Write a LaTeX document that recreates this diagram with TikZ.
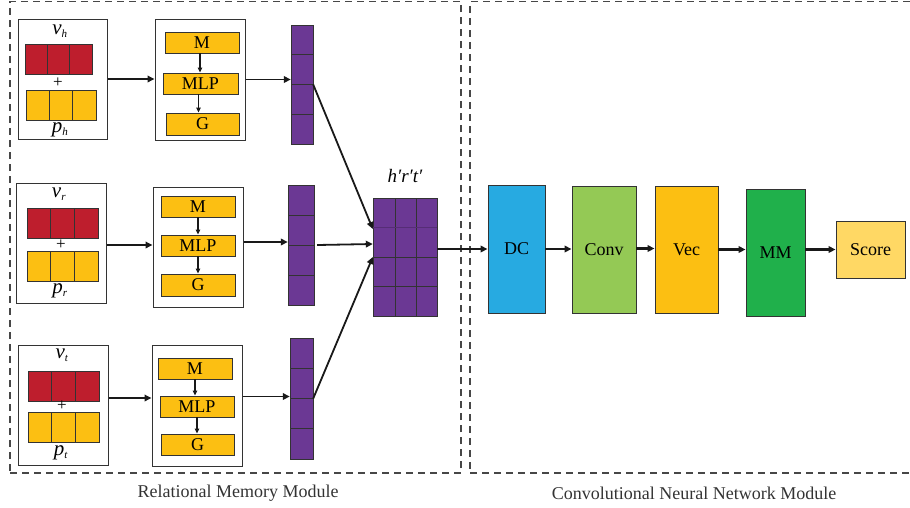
\documentclass[tikz,border=0pt]{standalone}
\usepackage{fontspec}
\setmainfont{Liberation Serif}
\usetikzlibrary{arrows.meta}
\definecolor{redc}{HTML}{BE1E2D}
\definecolor{yelc}{HTML}{FCBF12}
\definecolor{purc}{HTML}{6B3894}
\definecolor{dcc}{HTML}{27AAE1}
\definecolor{convc}{HTML}{94C955}
\definecolor{mmc}{HTML}{20B04B}
\definecolor{scorec}{HTML}{FFD864}
\definecolor{linec}{HTML}{333333}
\newcommand{\rectnode}[7]{\node[#2, inner sep=0pt, minimum width={(#5-#3)*1pt}, minimum height={(#6-#4)*1pt}] (#1) at ({(#3+#5)/2},{(#4+#6)/2}) {#7};}
\newcommand{\hcells}[7]{\foreach \ci in {1,...,#7}{\pgfmathsetmacro\xa{#3+(\ci-1)*(#5-#3)/#7}\pgfmathsetmacro\xb{#3+\ci*(#5-#3)/#7}\rectnode{#1\ci}{#2}{\xa}{#4}{\xb}{#6}{}}}
\newcommand{\vcells}[7]{\foreach \ci in {1,...,#7}{\pgfmathsetmacro\ya{#4+(\ci-1)*(#6-#4)/#7}\pgfmathsetmacro\yb{#4+\ci*(#6-#4)/#7}\rectnode{#1\ci}{#2}{#3}{\ya}{#5}{\yb}{}}}
\begin{document}
\begin{tikzpicture}[x=1pt,y=-1pt,
  dashbox/.style={draw=linec!90, dash pattern=on 7pt off 5pt, line width=1.1pt},
  outer/.style={draw=linec, line width=1pt, fill=white},
  redcell/.style={draw=linec, fill=redc, line width=0.9pt},
  yelcell/.style={draw=linec, fill=yelc, line width=0.9pt},
  purcell/.style={draw=linec, fill=purc, line width=0.9pt},
  ybox/.style={draw=linec, fill=yelc, line width=0.9pt, font=\fontsize{18}{20}\selectfont},
  bigbox/.style={draw=linec, line width=0.9pt, font=\fontsize{18}{20}\selectfont},
  lab/.style={inner sep=0pt, font=\fontsize{21}{22}\selectfont\itshape},
  plus/.style={inner sep=0pt, font=\fontsize{17}{18}\selectfont},
  captext/.style={inner sep=0pt, font=\fontsize{18}{20}\selectfont, text=linec},
  arr/.style={draw=black!90, line width=1.8pt, -{Triangle[length=7pt,width=6.5pt]}},
  arrb/.style={draw=black!90, line width=2.3pt, -{Triangle[length=7pt,width=6.5pt]}},
  sarr/.style={draw=black!90, line width=1.2pt, -{Triangle[length=5pt,width=4.5pt]}}
]
\useasboundingbox (0,0) rectangle (910,507);
% dashed module frames
\rectnode{rmm}{dashbox}{10}{1.5}{461}{473}{}
\rectnode{cnn}{dashbox}{470}{1.5}{916}{473}{}
% ---------- group h ----------
\rectnode{in1}{outer}{18}{19}{107}{139}{}
\hcells{rh}{redcell}{25}{44}{92}{74}{3}
\hcells{yh}{yelcell}{26}{90}{96}{120}{3}
\node[lab] (vh) at (60,31) {v\textsubscript{\fontsize{11}{11}\selectfont h}};
\node[plus] (plh) at (58,83) {+};
\node[lab] (ph) at (60,130) {p\textsubscript{\fontsize{11}{11}\selectfont h}};
\rectnode{mb1}{outer}{155}{19}{245}{140}{}
\rectnode{M1}{ybox}{165}{32}{239}{53}{M}
\rectnode{L1}{ybox}{163}{73}{238}{94}{MLP}
\rectnode{G1}{ybox}{166}{113}{239}{135}{G}
\rectnode{P1}{}{291}{25}{313}{144}{}
\vcells{p1c}{purcell}{291}{25}{313}{144}{4}
% ---------- group r ----------
\rectnode{in2}{outer}{16}{183}{106}{303}{}
\hcells{rr}{redcell}{27}{208}{98}{238}{3}
\hcells{yr}{yelcell}{27}{251}{98}{281}{3}
\node[lab] (vr) at (59,194) {v\textsubscript{\fontsize{11}{11}\selectfont r}};
\node[plus] (plr) at (61,245) {+};
\node[lab] (pr) at (60,291) {p\textsubscript{\fontsize{11}{11}\selectfont r}};
\rectnode{mb2}{outer}{153}{187}{243}{307}{}
\rectnode{M2}{ybox}{161}{196}{235}{217}{M}
\rectnode{L2}{ybox}{161}{235}{235}{256}{MLP}
\rectnode{G2}{ybox}{161}{274}{235}{296}{G}
\rectnode{P2}{}{288}{185}{314}{305}{}
\vcells{p2c}{purcell}{288}{185}{314}{305}{4}
% ---------- group t ----------
\rectnode{in3}{outer}{18}{345}{108}{465}{}
\hcells{rt}{redcell}{28}{371}{99}{401}{3}
\hcells{yt}{yelcell}{28}{412}{99}{442}{3}
\node[lab] (vt) at (62,355) {v\textsubscript{\fontsize{11}{11}\selectfont t}};
\node[plus] (plt) at (62,406) {+};
\node[lab] (pt) at (61,453) {p\textsubscript{\fontsize{11}{11}\selectfont t}};
\rectnode{mb3}{outer}{152}{345}{242}{466}{}
\rectnode{M3}{ybox}{158}{358}{232}{379}{M}
\rectnode{L3}{ybox}{160}{396}{234}{417}{MLP}
\rectnode{G3}{ybox}{161}{434}{234}{455}{G}
\rectnode{P3}{}{290}{338}{313}{459}{}
\vcells{p3c}{purcell}{290}{338}{313}{459}{4}
% ---------- merged h'r't' ----------
\rectnode{hrt}{}{373}{198}{437}{316}{}
\foreach \cx/\cy [count=\k] in {373/395,395/416,416/437}{
  \rectnode{hA\k}{purcell}{\cx}{198}{\cy}{257}{}
  \rectnode{hB\k}{purcell}{\cx}{257}{\cy}{286}{}
  \rectnode{hC\k}{purcell}{\cx}{286}{\cy}{316}{}
}
\draw[purc!80!black, line width=0.6pt] (hA1.west) -- (hA3.east);
\node[lab, font=\fontsize{19}{20}\selectfont\itshape] (hrtlab) at (405,176) {h′r′t′};
% ---------- CNN module ----------
\rectnode{DC}{bigbox, fill=dcc}{488}{185}{545}{313}{DC}
\rectnode{Conv}{bigbox, fill=convc}{572}{186}{636}{313}{Conv}
\rectnode{Vec}{bigbox, fill=yelc}{655}{186}{718}{313}{Vec}
\rectnode{MM}{bigbox, fill=mmc}{746}{189}{805}{316}{MM}
\rectnode{Score}{bigbox, fill=scorec}{836}{221}{905}{278}{Score}
% captions
\node[captext] (c1) at (238,493) {Relational Memory Module};
\node[captext] (c2) at (694,493) {Convolutional Neural Network Module};
% ---------- connectors ----------
\draw[arr] (in1.east) -- (in1.east -| mb1.west);
\draw[arr] ([yshift=-2pt]in2.east) -- ([yshift=-2pt]in2.east -| mb2.west);
\draw[arr] ([yshift=7pt]in3.east) -- ([yshift=7pt]in3.east -| mb3.west);
\draw[arr] (mb1.east) -- (mb1.east -| P1.west);
\draw[arr] ([yshift=5pt]mb2.east) -- ([yshift=5pt]mb2.east -| P2.west);
\draw[arr] ([yshift=9pt]mb3.east) -- ([yshift=9pt]mb3.east -| P3.west);
\draw[sarr] ([xshift=-2pt]M1.south) -- ([xshift=-2pt]M1.south |- L1.north);
\draw[sarr] ([xshift=-2pt]L1.south) -- ([xshift=-2pt]L1.south |- G1.north);
\draw[sarr] (M2.south) -- (M2.south |- L2.north);
\draw[sarr] (L2.south) -- (L2.south |- G2.north);
\draw[sarr] (M3.south) -- (M3.south |- L3.north);
\draw[sarr] (L3.south) -- (L3.south |- G3.north);
\draw[arr] (P1.east) -- ([yshift=28pt]hrt.west);
\draw[arr] ([xshift=3pt]P2.east) -- ([yshift=13pt]hrt.west);
\draw[arr] (P3.east) -- (hrt.west);
\draw[arrb] (DC.west -| hrt.east) -- (DC.west);
\draw[arrb] (DC.east) -- (DC.east -| Conv.west);
\draw[arrb] ([yshift=1pt]Conv.east) -- ([yshift=1pt]Conv.east -| Vec.west);
\draw[arrb] (Vec.east) -- (Vec.east -| MM.west);
\draw[arrb, line width=2.8pt] ([yshift=3pt]MM.east) -- ([yshift=3pt]MM.east -| Score.west);
\end{tikzpicture}
\end{document}
